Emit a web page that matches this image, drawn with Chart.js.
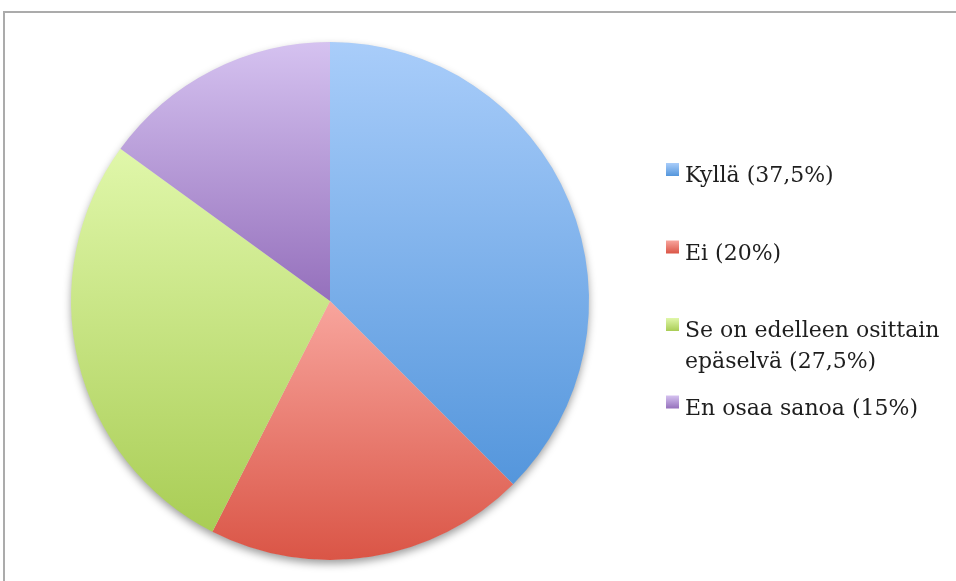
<!DOCTYPE html>
<html>
<head>
<meta charset="utf-8">
<script src="https://cdn.jsdelivr.net/npm/chart.js@4"></script>
<style>
  html, body { margin: 0; padding: 0; background: #fff; }
  .wrap { position: relative; width: 956px; height: 581px; overflow: hidden; }
  .frame { position: absolute; left: 3px; top: 11px; width: 1000px; height: 700px; border: 2px solid #ababab; }
  canvas { position: absolute; left: 0; top: 0; }
</style>
</head>
<body>
<div class="wrap">
  <div class="frame"></div>
  <canvas id="pie" width="956" height="581"></canvas>
</div>
<script>
// Vastaukset
const labels = ["Kyllä", "Ei", "Se on edelleen osittain epäselvä", "En osaa sanoa"];
const shares = [37.5, 20, 27.5, 15];
// Sektorien liukuvärit (ylä -> ala)
const topColors = ["#a9cdfa", "#f8a59d", "#e0f7aa", "#d5c2f0"];
const bottomColors = ["#5496dc", "#da5546", "#a9cd55", "#9570bc"];

function legendText(i) {
  return labels[i] + " (" + String(shares[i]).replace(".", ",") + "%)";
}

// Jokaiselle sektorille oma pystysuora liukuväri + varjo ympyrän alle
const pieShading = {
  id: "pieShading",
  beforeDatasetsDraw(chart) {
    const ctx = chart.ctx;
    const meta = chart.getDatasetMeta(0);
    let cx = 0, cy = 0, r = 0;
    meta.data.forEach((arc, i) => {
      const p = arc.getProps(["x", "y", "startAngle", "endAngle", "outerRadius"], true);
      cx = p.x; cy = p.y; r = p.outerRadius;
      const ys = [p.y, p.y + r * Math.sin(p.startAngle), p.y + r * Math.sin(p.endAngle)];
      [-Math.PI / 2, Math.PI / 2, 3 * Math.PI / 2].forEach(a => {
        if (a > p.startAngle && a < p.endAngle) ys.push(p.y + r * Math.sin(a));
      });
      const g = ctx.createLinearGradient(0, Math.min(...ys), 0, Math.max(...ys));
      g.addColorStop(0, topColors[i]);
      g.addColorStop(1, bottomColors[i]);
      arc.options.backgroundColor = g;
    });
    ctx.save();
    ctx.shadowColor = "rgba(0,0,0,0.4)";
    ctx.shadowBlur = 9;
    ctx.shadowOffsetY = 4;
    ctx.beginPath();
    ctx.arc(cx, cy, r - 0.5, 0, Math.PI * 2);
    ctx.fillStyle = "#ddd";
    ctx.fill();
    ctx.restore();
  }
};

// Selite oikealle, rivitys maksimileveyden mukaan
const sideLegend = {
  id: "sideLegend",
  afterDraw(chart) {
    const ctx = chart.ctx;
    const x0 = 666, textX = 685, maxW = 262;
    ctx.save();
    ctx.font = "22px 'DejaVu Serif'";
    ctx.textBaseline = "alphabetic";
    labels.forEach((_, i) => {
      const base = 182 + i * 77.5;
      const sq = ctx.createLinearGradient(0, base - 19, 0, base - 6);
      sq.addColorStop(0, topColors[i]);
      sq.addColorStop(1, bottomColors[i]);
      ctx.fillStyle = sq;
      ctx.fillRect(x0, base - 19, 13, 13);
      ctx.fillStyle = "#1e1e1e";
      const words = legendText(i).split(" ");
      const lines = [];
      let line = "";
      words.forEach(w => {
        const test = line ? line + " " + w : w;
        if (ctx.measureText(test).width > maxW && line) { lines.push(line); line = w; }
        else line = test;
      });
      lines.push(line);
      lines.forEach((l, k) => ctx.fillText(l, textX, base + k * 31));
    });
    ctx.restore();
  }
};

new Chart(document.getElementById("pie"), {
  type: "pie",
  data: {
    labels: labels,
    datasets: [{
      data: shares,
      backgroundColor: topColors,
      borderWidth: 0,
      hoverOffset: 0,
      offset: 0
    }]
  },
  options: {
    responsive: false,
    animation: false,
    layout: { padding: { left: 71, right: 367, top: 42, bottom: 21 } },
    plugins: {
      legend: { display: false },
      tooltip: { enabled: false }
    }
  },
  plugins: [pieShading, sideLegend]
});
</script>
</body>
</html>
